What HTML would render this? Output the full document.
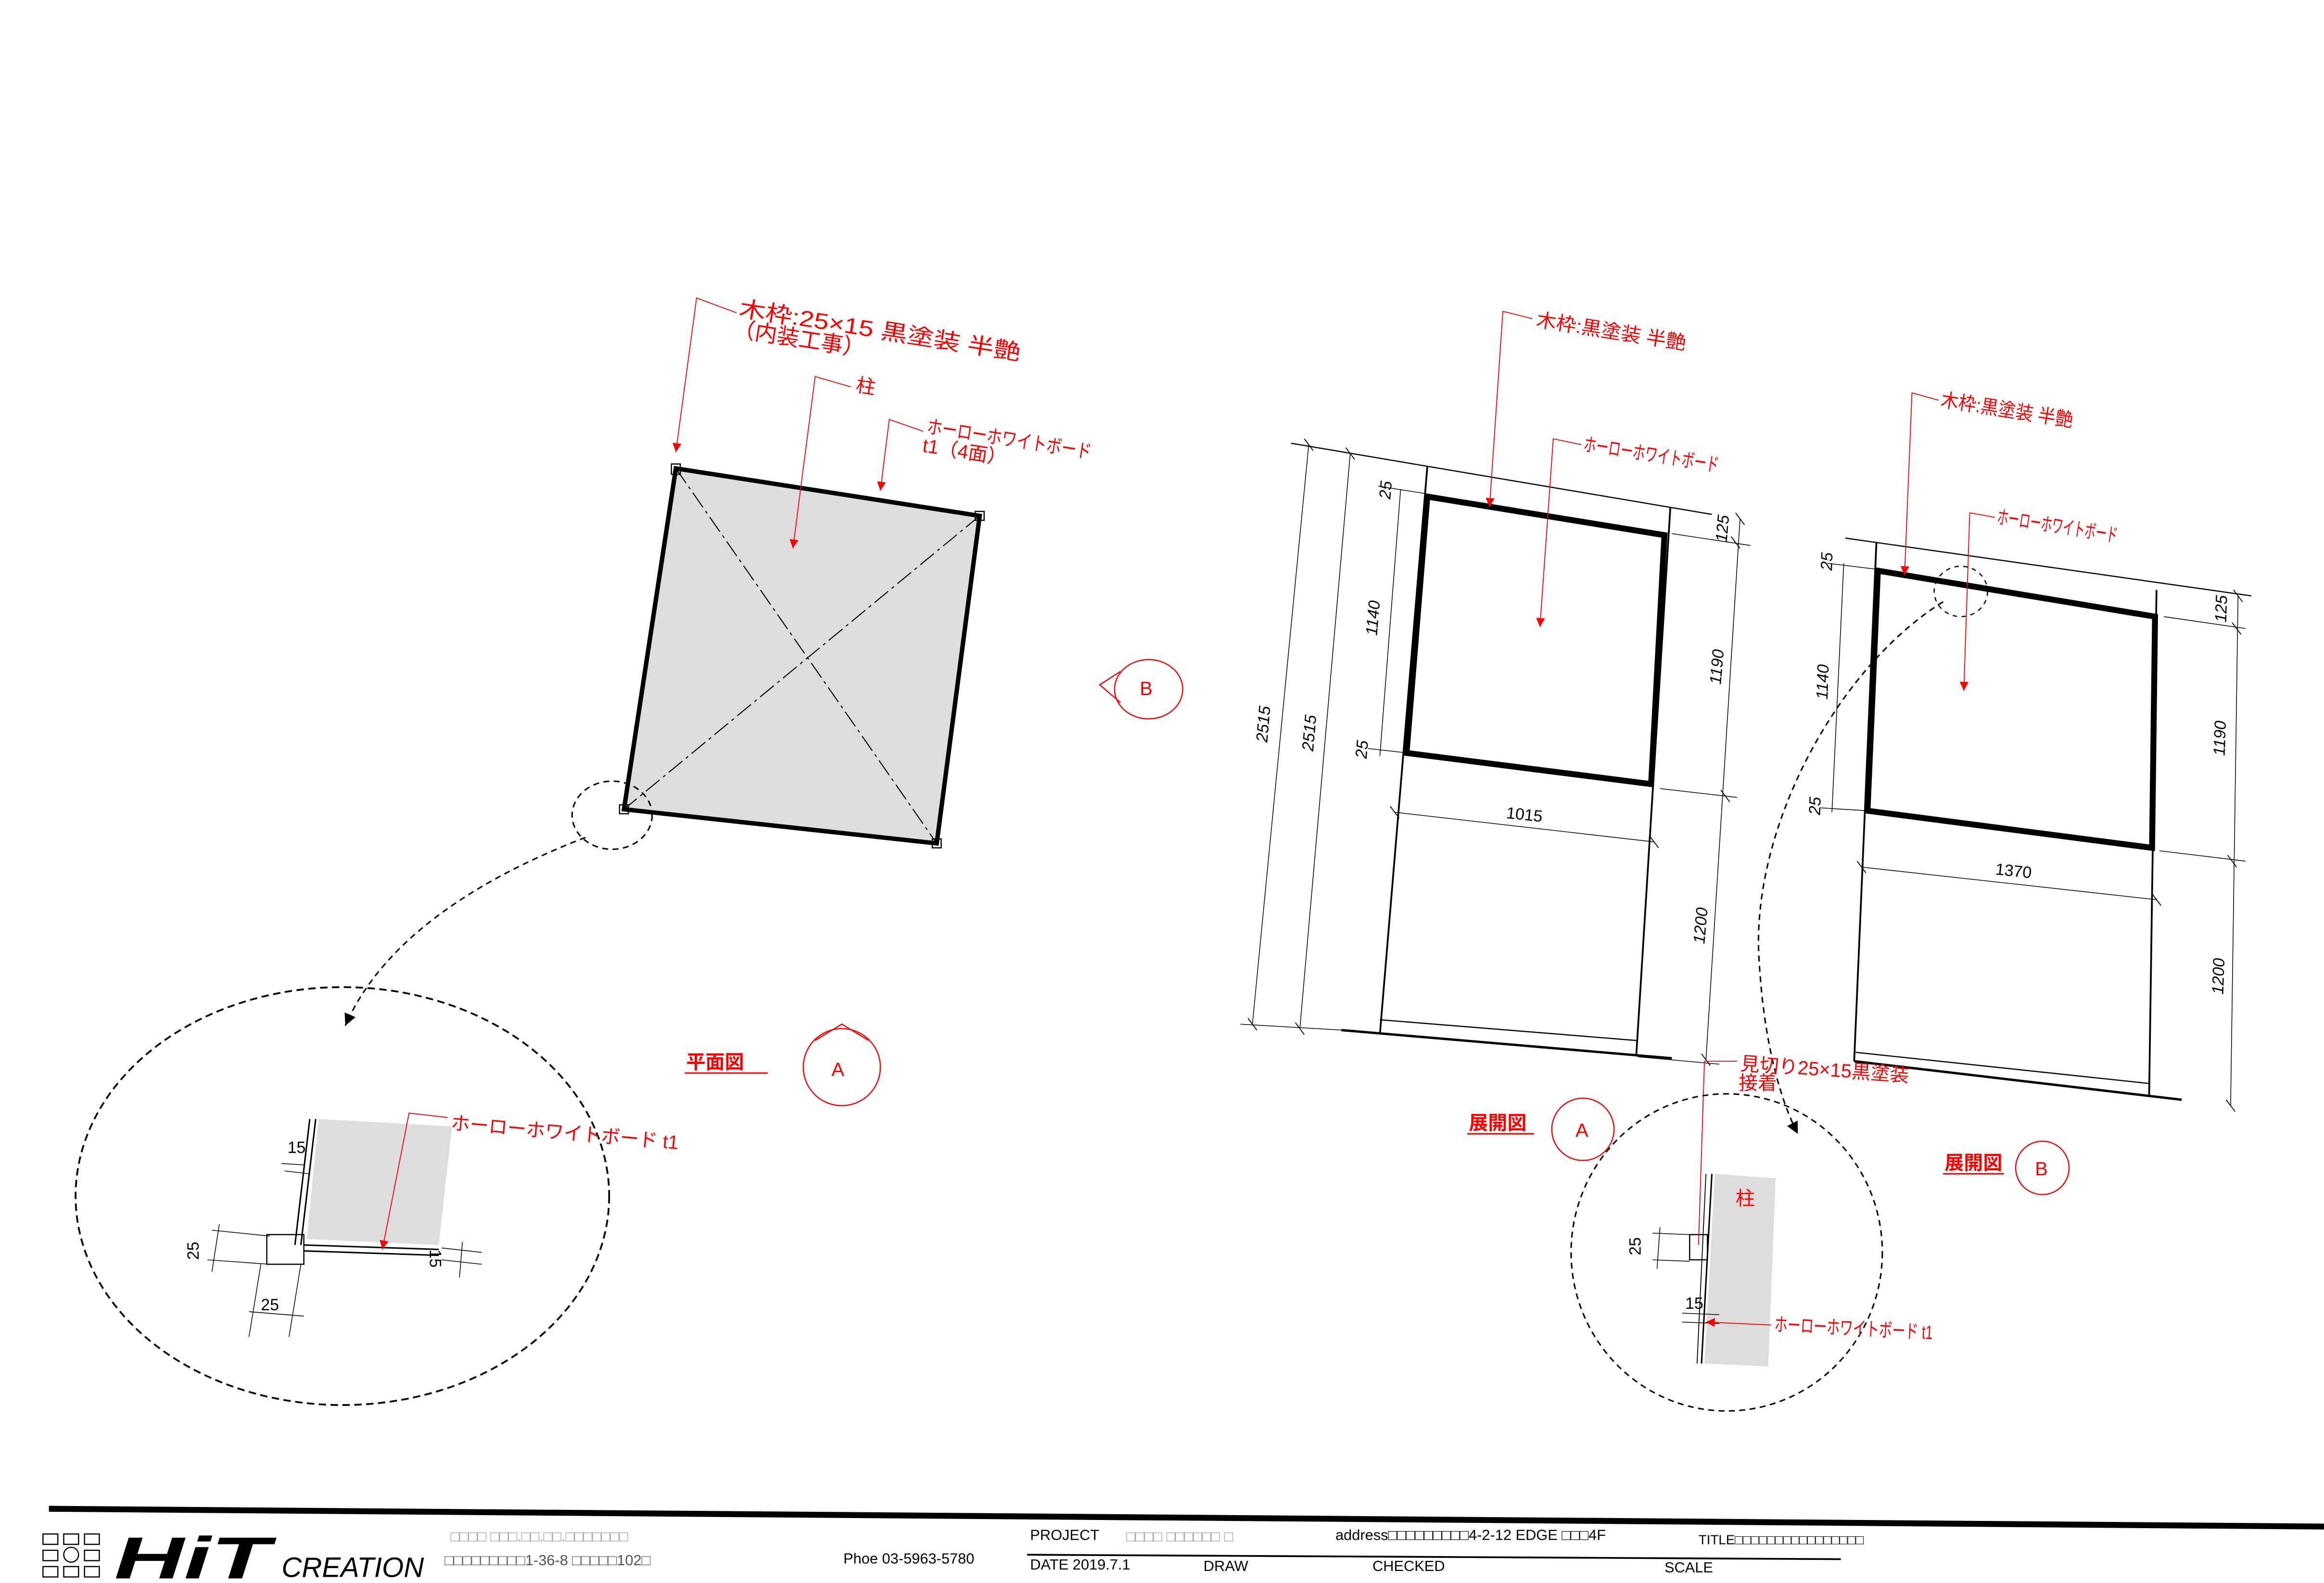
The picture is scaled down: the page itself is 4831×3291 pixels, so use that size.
<!DOCTYPE html>
<html><head><meta charset="utf-8"><style>
html,body{margin:0;padding:0;background:#fff}
svg{display:block}
text{font-family:"Liberation Sans","Noto Sans CJK JP",sans-serif}
.r{fill:#f00;font-size:13px}
.k{fill:#000;font-size:11px}
.i{font-style:italic}
</style></head><body>
<svg width="4831" height="3291" viewBox="0 0 1568 1068" xmlns="http://www.w3.org/2000/svg">
<defs>
<marker id="ar" viewBox="0 0 10 10" refX="10" refY="5" markerWidth="6" markerHeight="9" orient="auto-start-reverse" markerUnits="userSpaceOnUse"><path d="M0,0 L10,5 L0,10z" fill="#f00"/></marker>
<marker id="ak" viewBox="0 0 10 10" refX="10" refY="5" markerWidth="8" markerHeight="8" orient="auto" markerUnits="userSpaceOnUse"><path d="M0,0 L10,5 L0,10z" fill="#000"/></marker>
</defs>
<rect width="1568" height="1068" fill="#fff"/>

<!-- PLAN VIEW -->
<polygon points="456,316 661,348 632,569 421,546" fill="#ddd" stroke="#000" stroke-width="3"/>
<g stroke="#000" stroke-width="0.7" stroke-dasharray="12,3,2,3" fill="none">
<line x1="456" y1="316" x2="632" y2="569"/><line x1="661" y1="348" x2="421" y2="546"/></g>
<g fill="none" stroke="#000" stroke-width="0.8">
<rect x="453" y="313" width="6" height="7"/><rect x="658" y="345" width="6" height="6"/><rect x="629" y="566" width="6" height="6"/><rect x="418" y="543" width="6" height="6"/></g>
<g stroke="#f00" stroke-width="0.6" fill="none">
<polyline points="497,211 470,201 456,305" marker-end="url(#ar)"/>
<polyline points="574,261 550,254 535,370" marker-end="url(#ar)"/>
<polyline points="623,291 600,283 594,331" marker-end="url(#ar)"/>
</g>
<g class="r" transform="rotate(9 498 213)"><text x="498" y="213" font-size="15" textLength="192" lengthAdjust="spacingAndGlyphs">木枠:25×15  黒塗装 半艶</text><text x="496" y="227" font-size="15" textLength="90" lengthAdjust="spacingAndGlyphs">（内装工事）</text></g>
<text class="r" x="577" y="264" transform="rotate(9 577 264)" font-size="14">柱</text>
<g class="r" transform="rotate(9 625 292)" font-size="11"><text x="625" y="292" textLength="112" lengthAdjust="spacingAndGlyphs">ホーローホワイトボード</text><text x="624" y="305">t1（4面）</text></g>

<ellipse cx="413" cy="550" rx="27" ry="23" fill="none" stroke="#000" stroke-width="1" stroke-dasharray="4,3"/>
<path d="M395,565 C330,590 260,630 233,692" fill="none" stroke="#000" stroke-width="1" stroke-dasharray="4,3" marker-end="url(#ak)"/>
<ellipse cx="231" cy="807" rx="180" ry="141" fill="none" stroke="#000" stroke-width="1.2" stroke-dasharray="5,3"/>
<polygon points="215,755 305,760 296,840 207,836" fill="#ddd"/>
<g stroke="#000" stroke-width="1" fill="none">
<line x1="213" y1="755" x2="203" y2="840"/><line x1="209" y1="755" x2="199" y2="840"/>
<line x1="205" y1="840" x2="296" y2="843"/><line x1="205" y1="844" x2="296" y2="847"/>
<rect x="180" y="833" width="25" height="20" stroke-width="0.8"/>
</g>
<g stroke="#000" stroke-width="0.5">
<line x1="190" y1="785" x2="205" y2="786"/><line x1="192" y1="790" x2="209" y2="792"/>
<line x1="143" y1="830" x2="182" y2="834"/><line x1="140" y1="850" x2="182" y2="853"/><line x1="148" y1="826" x2="143" y2="858"/>
<line x1="176" y1="853" x2="168" y2="902"/><line x1="203" y1="853" x2="195" y2="902"/><line x1="168" y1="885" x2="205" y2="888"/>
<line x1="298" y1="842" x2="325" y2="845"/><line x1="298" y1="850" x2="325" y2="853"/><line x1="312" y1="838" x2="310" y2="862"/>
</g>
<text class="k" x="194" y="778" font-size="15">15</text>
<text class="k" x="134" y="850" font-size="15" transform="rotate(-90 134 850)">25</text>
<text class="k" x="176" y="884" font-size="15">25</text>
<text class="k" x="290" y="843" font-size="15" transform="rotate(90 290 843)">15</text>
<polyline points="302,754 276,751 258,843" fill="none" stroke="#f00" stroke-width="0.6" marker-end="url(#ar)"/>
<text class="r" x="304" y="762" font-size="13" transform="rotate(5 304 762)" textLength="154" lengthAdjust="spacingAndGlyphs">ホーローホワイトボード t1</text>

<text class="r" x="463" y="721" font-size="14" font-weight="bold">平面図</text>
<line x1="462" y1="724" x2="518" y2="724" stroke="#f00" stroke-width="1"/>
<circle cx="568" cy="720" r="26" fill="none" stroke="#f00" stroke-width="0.8"/>
<polyline points="550,702 568,691 586,702" fill="none" stroke="#f00" stroke-width="0.8"/>
<text class="r" x="561" y="726" font-size="13">A</text>
<ellipse cx="775" cy="465" rx="23" ry="20" fill="none" stroke="#f00" stroke-width="0.8"/>
<polyline points="756,453 742,462 756,474" fill="none" stroke="#f00" stroke-width="0.8"/>
<text class="r" x="769" y="469" font-size="12">B</text>

<!-- ELEVATION A -->
<g stroke="#000" fill="none">
<line x1="871" y1="299" x2="1155" y2="347" stroke-width="0.8"/>
<line x1="963" y1="315" x2="931" y2="698" stroke-width="1.2"/>
<line x1="1127" y1="342" x2="1104" y2="712" stroke-width="1.2"/>
<line x1="905" y1="695" x2="1128" y2="714" stroke-width="1.6"/>
<line x1="931" y1="688" x2="1104" y2="702" stroke-width="0.8"/>
<polygon points="963,335 1123,361 1114,529 949,508" stroke-width="4"/>
<g stroke-width="0.5">
<line x1="941" y1="548" x2="1116" y2="568"/>
<line x1="883" y1="300" x2="845" y2="691"/><line x1="911" y1="306" x2="877" y2="694"/>
<line x1="945" y1="330" x2="931" y2="510"/>
<line x1="837" y1="691" x2="905" y2="695"/>
<line x1="1174" y1="350" x2="1151" y2="715"/>
<line x1="1128" y1="360" x2="1181" y2="368"/><line x1="1120" y1="532" x2="1172" y2="538"/>
<line x1="1105" y1="713" x2="1160" y2="718"/>
<line x1="930" y1="328" x2="962" y2="333"/><line x1="923" y1="505" x2="950" y2="508"/>
</g>
</g>
<g stroke="#000" stroke-width="0.6">
<line x1="880" y1="296" x2="886" y2="304"/><line x1="908" y1="302" x2="914" y2="310"/><line x1="842" y1="687" x2="848" y2="695"/><line x1="874" y1="690" x2="880" y2="698"/>
<line x1="938" y1="544" x2="944" y2="552"/><line x1="1113" y1="564" x2="1119" y2="572"/>
<line x1="1171" y1="346" x2="1177" y2="354"/><line x1="1168" y1="362" x2="1174" y2="370"/><line x1="1161" y1="533" x2="1167" y2="541"/><line x1="1148" y1="711" x2="1154" y2="719"/>
</g>
<g class="k i" font-size="11">
<text x="855" y="501" transform="rotate(-85 855 501)">2515</text>
<text x="886" y="507" transform="rotate(-85 886 507)">2515</text>
<text x="929" y="429" transform="rotate(-85 929 429)">1140</text>
<text x="938" y="337" transform="rotate(-85 938 337)">25</text>
<text x="922" y="512" transform="rotate(-85 922 512)">25</text>
<text x="1016" y="552" transform="rotate(6 1016 552)" font-style="normal">1015</text>
<text x="1165" y="366" transform="rotate(-85 1165 366)">125</text>
<text x="1161" y="462" transform="rotate(-85 1161 462)">1190</text>
<text x="1150" y="637" transform="rotate(-85 1150 637)">1200</text>
</g>
<g stroke="#f00" stroke-width="0.6" fill="none">
<polyline points="1034,215 1014,210 1005,342" marker-end="url(#ar)"/>
<polyline points="1067,300 1048,296 1039,423" marker-end="url(#ar)"/>
</g>
<text class="r" x="1036" y="220" font-size="12" transform="rotate(9 1036 220)" textLength="102" lengthAdjust="spacingAndGlyphs">木枠:黒塗装 半艶</text>
<text class="r" x="1068" y="304" font-size="10" transform="rotate(9 1068 304)" textLength="92" lengthAdjust="spacingAndGlyphs">ホーローホワイトボード</text>

<!-- ELEVATION B -->
<g stroke="#000" fill="none">
<line x1="1245" y1="363" x2="1519" y2="402" stroke-width="0.8"/>
<line x1="1266" y1="366" x2="1251" y2="716" stroke-width="1.2"/>
<line x1="1455" y1="398" x2="1450" y2="740" stroke-width="1.2"/>
<line x1="1251" y1="716" x2="1472" y2="742" stroke-width="1.6"/>
<line x1="1252" y1="710" x2="1450" y2="731" stroke-width="0.8"/>
<polygon points="1267,385 1454,416 1452,572 1260,547" stroke-width="4"/>
<g stroke-width="0.5">
<line x1="1256" y1="585" x2="1455" y2="607"/>
<line x1="1244" y1="380" x2="1236" y2="548"/>
<line x1="1510" y1="402" x2="1505" y2="746"/>
<line x1="1460" y1="416" x2="1515" y2="424"/><line x1="1457" y1="574" x2="1515" y2="581"/>
<line x1="1233" y1="380" x2="1266" y2="384"/><line x1="1228" y1="545" x2="1260" y2="547"/>
</g>
</g>
<g stroke="#000" stroke-width="0.6">
<line x1="1253" y1="581" x2="1259" y2="589"/><line x1="1452" y1="603" x2="1458" y2="611"/>
<line x1="1507" y1="398" x2="1513" y2="406"/><line x1="1506" y1="420" x2="1512" y2="428"/><line x1="1503" y1="577" x2="1509" y2="585"/><line x1="1502" y1="742" x2="1508" y2="750"/>
</g>
<g class="k i" font-size="10">
<text x="1236" y="385" transform="rotate(-88 1236 385)">25</text>
<text x="1233" y="472" transform="rotate(-88 1233 472)">1140</text>
<text x="1228" y="550" transform="rotate(-88 1228 550)">25</text>
<text x="1346" y="590" transform="rotate(6 1346 590)" font-style="normal">1370</text>
<text x="1502" y="420" transform="rotate(-88 1502 420)">125</text>
<text x="1501" y="510" transform="rotate(-88 1501 510)">1190</text>
<text x="1500" y="671" transform="rotate(-88 1500 671)">1200</text>
</g>
<g stroke="#f00" stroke-width="0.6" fill="none">
<polyline points="1308,270 1290,265 1285,388" marker-end="url(#ar)"/>
<polyline points="1346,349 1329,346 1325,466" marker-end="url(#ar)"/>
</g>
<text class="r" x="1309" y="274" font-size="11" transform="rotate(9 1309 274)" textLength="90" lengthAdjust="spacingAndGlyphs">木枠:黒塗装 半艶</text>
<text class="r" x="1347" y="353" font-size="9" transform="rotate(9 1347 353)" textLength="82" lengthAdjust="spacingAndGlyphs">ホーローホワイトボード</text>
<ellipse cx="1323" cy="399" rx="18" ry="17" fill="none" stroke="#000" stroke-width="0.8" stroke-dasharray="3,3"/>
<path d="M1311,406 C1240,450 1180,560 1187,650 C1190,700 1200,740 1213,765" fill="none" stroke="#000" stroke-width="1" stroke-dasharray="4,3" marker-end="url(#ak)"/>

<!-- 見切り label -->
<text class="r" x="1174" y="722" font-size="12" transform="rotate(4 1174 722)" textLength="114" lengthAdjust="spacingAndGlyphs">見切り25×15黒塗装</text>
<text class="r" x="1173" y="735" font-size="12">接着</text>
<polyline points="1172,716 1150,716 1146,840" fill="none" stroke="#f00" stroke-width="0.6"/>

<!-- DETAIL 2 -->
<ellipse cx="1165" cy="845" rx="105" ry="107" fill="none" stroke="#000" stroke-width="1" stroke-dasharray="4,3"/>
<polygon points="1157,792 1198,795 1193,922 1150,920" fill="#ddd"/>
<g stroke="#000" fill="none">
<line x1="1155" y1="792" x2="1148" y2="920" stroke-width="1"/>
<line x1="1151" y1="792" x2="1145" y2="920" stroke-width="0.6"/>
<rect x="1140" y="833" width="12" height="17" stroke-width="0.8"/>
<g stroke-width="0.5"><line x1="1115" y1="832" x2="1140" y2="833"/><line x1="1115" y1="850" x2="1140" y2="851"/><line x1="1120" y1="828" x2="1118" y2="856"/>
<line x1="1135" y1="886" x2="1160" y2="887"/><line x1="1135" y1="892" x2="1160" y2="893"/></g>
</g>
<text class="r" x="1171" y="813" font-size="12">柱</text>
<text class="k" x="1107" y="847" font-size="12" transform="rotate(-90 1107 847)">25</text>
<text class="k" x="1137" y="883" font-size="11">15</text>
<line x1="1195" y1="894" x2="1151" y2="892" stroke="#f00" stroke-width="0.6" marker-end="url(#ar)"/>
<text class="r" x="1197" y="898" font-size="11" transform="rotate(3 1197 898)" textLength="107" lengthAdjust="spacingAndGlyphs">ホーローホワイトボード t1</text>

<text class="r" x="991" y="762" font-size="13" font-weight="bold">展開図</text>
<line x1="990" y1="765" x2="1035" y2="765" stroke="#f00" stroke-width="1"/>
<circle cx="1068" cy="762" r="21" fill="none" stroke="#f00" stroke-width="0.8"/>
<text class="r" x="1063" y="767" font-size="11">A</text>
<text class="r" x="1312" y="789" font-size="13" font-weight="bold">展開図</text>
<line x1="1311" y1="792" x2="1352" y2="792" stroke="#f00" stroke-width="1"/>
<circle cx="1378" cy="788" r="18" fill="none" stroke="#f00" stroke-width="0.8"/>
<text class="r" x="1373" y="793" font-size="11">B</text>

<!-- FOOTER -->
<polygon points="33,1016 1568,1028 1568,1032 33,1020" fill="#000"/>
<g fill="none" stroke="#000" stroke-width="0.8">
<rect x="29" y="1035" width="10" height="7"/><rect x="43" y="1035" width="10" height="7"/><rect x="57" y="1035" width="10" height="7"/>
<rect x="29" y="1046" width="10" height="7"/><circle cx="48" cy="1049" r="5"/><rect x="57" y="1046" width="10" height="7"/>
<rect x="29" y="1057" width="10" height="7"/><rect x="43" y="1057" width="10" height="7"/><rect x="57" y="1057" width="10" height="7"/>
</g>
<text x="77" y="1065" font-size="40" font-weight="bold" font-style="italic" fill="#000" textLength="105" lengthAdjust="spacingAndGlyphs">HiT</text>
<text x="190" y="1064" font-size="19" font-style="italic" fill="#000" textLength="96" lengthAdjust="spacingAndGlyphs">CREATION</text>
<text x="304" y="1040" font-size="10" fill="#999">□□□□ □□□.□□.□□.□□□□□□□</text>
<text x="300" y="1056" font-size="10" fill="#555">□□□□□□□□□1-36-8 □□□□□102□</text>
<text x="569" y="1055" font-size="10" fill="#000">Phoe 03-5963-5780</text>
<text x="695" y="1039" font-size="10" fill="#000">PROJECT</text>
<text x="760" y="1040" font-size="10" fill="#999">□□□□ □□□□□□ □</text>
<text x="901" y="1039" font-size="10" fill="#000">address□□□□□□□□□4-2-12 EDGE □□□4F</text>
<text x="1146" y="1042" font-size="9" fill="#000">TITLE□□□□□□□□□□□□□□□□</text>
<line x1="693" y1="1049" x2="1242" y2="1052" stroke="#000" stroke-width="1.2"/>
<text x="695" y="1059" font-size="10" fill="#000">DATE  2019.7.1</text>
<text x="812" y="1060" font-size="10" fill="#000">DRAW</text>
<text x="926" y="1060" font-size="10" fill="#000">CHECKED</text>
<text x="1123" y="1061" font-size="10" fill="#000">SCALE</text>
</svg>
</body></html>
